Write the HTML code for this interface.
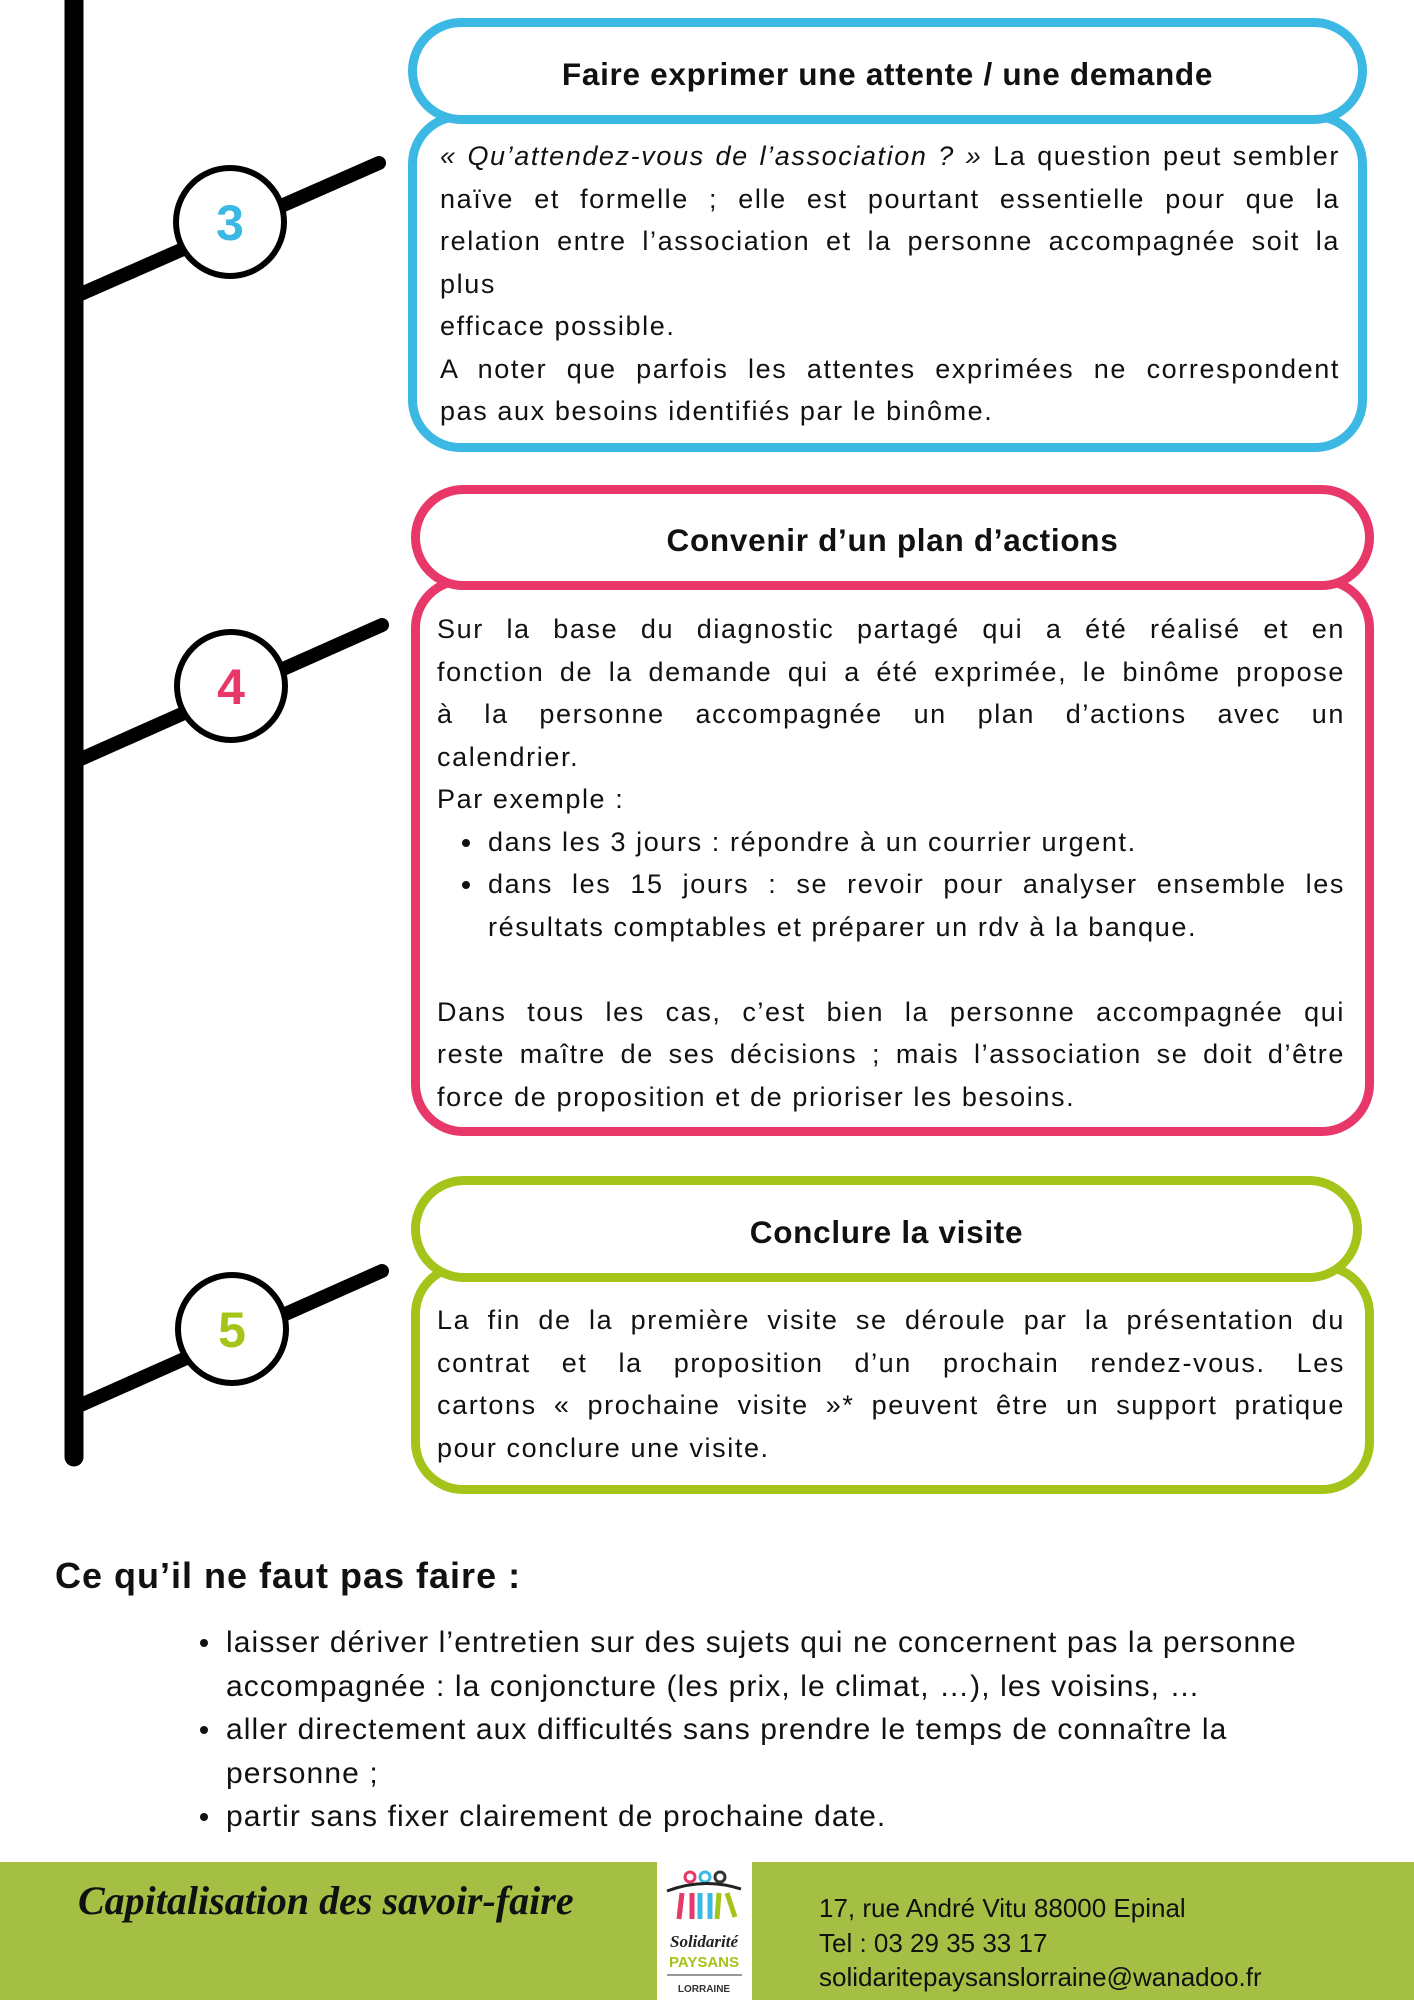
<!DOCTYPE html>
<html><head><meta charset="utf-8"><style>
body{margin:0;width:1414px;height:2000px;position:relative;background:#fff;font-family:"Liberation Sans",sans-serif;color:#111;overflow:hidden}
.a{position:absolute}
.hd{position:absolute;background:#fff;border-style:solid;border-width:9px;border-radius:60px;box-sizing:border-box;display:flex;align-items:center;justify-content:center;font-weight:bold;font-size:31.5px;letter-spacing:0.7px;padding-top:6px}
.bd{position:absolute;border-style:solid;border-width:9px;border-radius:52px;box-sizing:border-box;background:#fff}
.tx{position:absolute;font-size:27px;letter-spacing:1.6px;line-height:42.5px}
.j{text-align:justify;text-align-last:justify}
.l{white-space:nowrap}
.li{position:relative}
.li:before{content:"";position:absolute;left:-26px;top:18px;width:8px;height:8px;border-radius:50%;background:#111}
</style></head><body>
<svg class="a" style="left:0;top:0" width="1414" height="2000">
<line x1="74" y1="-10" x2="74" y2="1457" stroke="#000" stroke-width="19" stroke-linecap="round"/>
<g stroke="#000" stroke-width="14" stroke-linecap="round">
<line x1="74" y1="297" x2="379" y2="163"/>
<line x1="74" y1="762" x2="382" y2="625"/>
<line x1="74" y1="1408" x2="382" y2="1271"/>
</g>
<g fill="#fff" stroke="#000" stroke-width="6">
<circle cx="230" cy="222" r="54"/>
<circle cx="231" cy="686" r="54"/>
<circle cx="232" cy="1329" r="54"/>
</g>
<g font-family="Liberation Sans" font-weight="bold" font-size="50" text-anchor="middle">
<text x="230" y="240" fill="#3bb8e3">3</text>
<text x="231" y="704" fill="#e8386a">4</text>
<text x="232" y="1347" fill="#a5c41a">5</text>
</g>
</svg>

<div class="bd" style="left:408px;top:112px;width:959px;height:340px;border-color:#3bb8e3"></div>
<div class="hd" style="left:408px;top:18px;width:959px;height:106px;border-color:#3bb8e3">Faire exprimer une attente / une demande</div>
<div class="tx" style="left:440px;top:135px;width:900px">
<div class="j"><i>« Qu’attendez-vous de l’association ? »</i> La question peut sembler</div>
<div class="j">naïve et formelle ; elle est pourtant essentielle pour que la</div>
<div class="j">relation entre l’association et la personne accompagnée soit la</div>
<div class="l">plus</div>
<div class="l">efficace possible.</div>
<div class="j">A noter que parfois les attentes exprimées ne correspondent</div>
<div class="l">pas aux besoins identifiés par le binôme.</div>
</div>

<div class="bd" style="left:411px;top:576px;width:963px;height:560px;border-color:#e8386a"></div>
<div class="hd" style="left:411px;top:485px;width:963px;height:105px;border-color:#e8386a">Convenir d’un plan d’actions</div>
<div class="tx" style="left:437px;top:608px;width:908px">
<div class="j">Sur la base du diagnostic partagé qui a été réalisé et en</div>
<div class="j">fonction de la demande qui a été exprimée, le binôme propose</div>
<div class="j">à la personne accompagnée un plan d’actions avec un</div>
<div class="l">calendrier.</div>
<div class="l">Par exemple :</div>
<div style="padding-left:51px">
<div class="l li">dans les 3 jours : répondre à un courrier urgent.</div>
<div class="j li">dans les 15 jours : se revoir pour analyser ensemble les</div>
<div class="l">résultats comptables et préparer un rdv à la banque.</div>
</div>
<div>&nbsp;</div>
<div class="j">Dans tous les cas, c’est bien la personne accompagnée qui</div>
<div class="j">reste maître de ses décisions ; mais l’association se doit d’être</div>
<div class="l">force de proposition et de prioriser les besoins.</div>
</div>

<div class="bd" style="left:411px;top:1262px;width:963px;height:232px;border-color:#a5c41a"></div>
<div class="hd" style="left:411px;top:1176px;width:951px;height:106px;border-color:#a5c41a">Conclure la visite</div>
<div class="tx" style="left:437px;top:1299px;width:908px">
<div class="j">La fin de la première visite se déroule par la présentation du</div>
<div class="j">contrat et la proposition d’un prochain rendez-vous. Les</div>
<div class="j">cartons « prochaine visite »* peuvent être un support pratique</div>
<div class="l">pour conclure une visite.</div>
</div>

<div class="a" style="left:55px;top:1555px;font-size:36px;letter-spacing:1px;font-weight:bold">Ce qu’il ne faut pas faire :</div>
<div class="a" style="left:226px;top:1621px;font-size:30px;letter-spacing:1.1px;line-height:43.5px;width:1180px">
<div class="li l">laisser dériver l’entretien sur des sujets qui ne concernent pas la personne</div>
<div class="l">accompagnée : la conjoncture (les prix, le climat, …), les voisins, …</div>
<div class="li l">aller directement aux difficultés sans prendre le temps de connaître la</div>
<div>personne ;</div>
<div class="li">partir sans fixer clairement de prochaine date.</div>
</div>

<div class="a" style="left:0;top:1862px;width:1414px;height:138px;background:#a5bf45"></div>
<div class="a" style="left:78px;top:1871px;font-family:'Liberation Serif',serif;font-style:italic;font-weight:bold;font-size:40px;line-height:60px">Capitalisation des savoir-faire</div>
<div class="a" style="left:657px;top:1859px;width:95px;height:141px;background:#fff">
<svg width="95" height="142">
<circle cx="33" cy="18" r="5" fill="none" stroke="#e8386a" stroke-width="3"/>
<circle cx="48" cy="18" r="5" fill="none" stroke="#3bb8e3" stroke-width="3"/>
<circle cx="63" cy="18" r="5" fill="none" stroke="#333" stroke-width="3"/>
<path d="M10 32 Q47 18 84 30" stroke="#222" stroke-width="3" fill="none"/>
<path d="M25 34 L22 60 M35 34 L35 60" stroke="#e8386a" stroke-width="5"/>
<path d="M43 34 L43 60 M53 34 L53 60" stroke="#3bb8e3" stroke-width="5"/>
<path d="M62 34 L60 60 M70 34 L78 58" stroke="#a5c41a" stroke-width="5"/>
<text x="47" y="88" font-family="Liberation Serif" font-style="italic" font-weight="bold" font-size="17" text-anchor="middle" fill="#222">Solidarité</text>
<text x="47" y="108" font-family="Liberation Sans" font-weight="bold" font-size="15" text-anchor="middle" fill="#a5c41a">PAYSANS</text>
<line x1="10" y1="116" x2="85" y2="116" stroke="#999" stroke-width="2"/>
<text x="47" y="133" font-family="Liberation Sans" font-weight="bold" font-size="10" text-anchor="middle" fill="#333">LORRAINE</text>
</svg></div>
<div class="a" style="left:819px;top:1891px;font-size:26px;line-height:34.5px">17, rue André Vitu 88000 Epinal<br>Tel : 03 29 35 33 17<br>solidaritepaysanslorraine@wanadoo.fr</div>
</body></html>
